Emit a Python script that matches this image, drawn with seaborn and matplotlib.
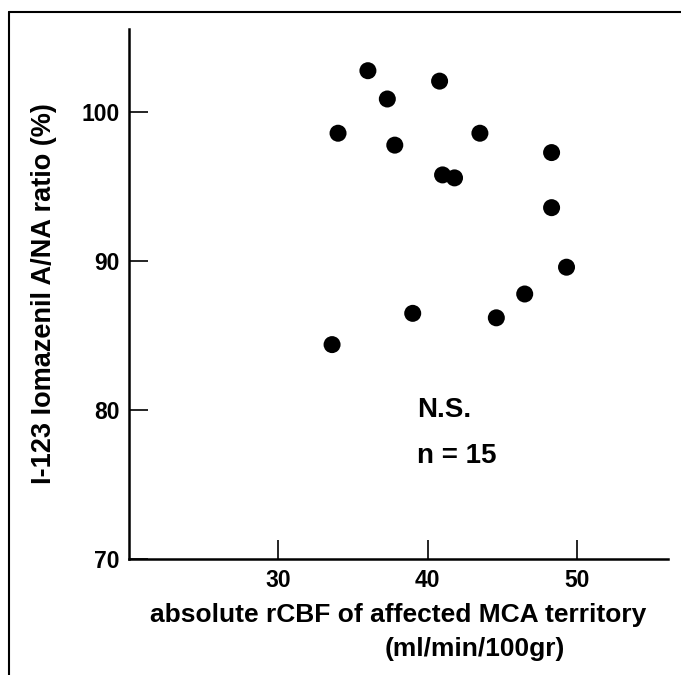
import matplotlib
matplotlib.use("Agg")
import matplotlib.pyplot as plt
from matplotlib.lines import Line2D
import seaborn as sns
import pandas as pd

# values
rcbf = [36.0, 40.8, 37.3, 34.0, 37.8, 43.5, 48.3, 41.0, 41.8, 48.3, 49.3, 46.5, 39.0, 44.6, 33.6]
ratio = [102.8, 102.1, 100.9, 98.6, 97.8, 98.6, 97.3, 95.8, 95.6, 93.6, 89.6, 87.8, 86.5, 86.2, 84.4]
xticks = [30, 40, 50]
yticks = [70, 80, 90, 100]

data = pd.DataFrame({"rcbf": rcbf, "ratio": ratio})

sns.set_style("ticks")
plt.rcParams["font.family"] = ["Liberation Sans", "DejaVu Sans"]
plt.rcParams["text.color"] = "black"
plt.rcParams["axes.labelcolor"] = "black"
plt.rcParams["xtick.color"] = "black"
plt.rcParams["ytick.color"] = "black"

fig = plt.figure(figsize=(6.81, 6.75), dpi=100)
ax = fig.add_axes([0.1894, 0.1719, 0.7916, 0.7851])

sns.scatterplot(data=data, x="rcbf", y="ratio", color="black", s=150,
                edgecolor="none", ax=ax, legend=False)

ax.set_xlim(20, 56.1)
ax.set_ylim(70, 105.6)
ax.set_xticks(xticks)
ax.set_yticks(yticks)
ax.tick_params(direction="in", length=14, width=1.2, labelsize=16.5, pad=7)
for lab in ax.get_xticklabels() + ax.get_yticklabels():
    lab.set_fontweight("bold")

sns.despine(ax=ax)
for s in ["left", "bottom"]:
    ax.spines[s].set_linewidth(1.8)
    ax.spines[s].set_color("black")

ax.set_xlabel("absolute rCBF of affected MCA territory", fontsize=19,
              fontweight="bold", labelpad=8)
ax.text(0.475, -0.17, "(ml/min/100gr)", transform=ax.transAxes, fontsize=19,
        fontweight="bold", ha="left", va="center")
ax.set_ylabel("I-123 Iomazenil A/NA ratio (%)", fontsize=19.5, fontweight="bold",
              labelpad=17)

ax.text(39.3, 80.0, "N.S.", fontsize=20, fontweight="bold", ha="left", va="center")
ax.text(39.3, 76.9, "n = 15", fontsize=20, fontweight="bold", ha="left", va="center")

# outer frame (top and left edges of the scanned panel)
fig.add_artist(Line2D([9 / 681, 1.0], [1 - 12 / 675, 1 - 12 / 675],
                      transform=fig.transFigure, color="black", linewidth=1.5))
fig.add_artist(Line2D([9 / 681, 9 / 681], [0.0, 1 - 12 / 675],
                      transform=fig.transFigure, color="black", linewidth=1.5))

fig.savefig("out.png", dpi=100)
